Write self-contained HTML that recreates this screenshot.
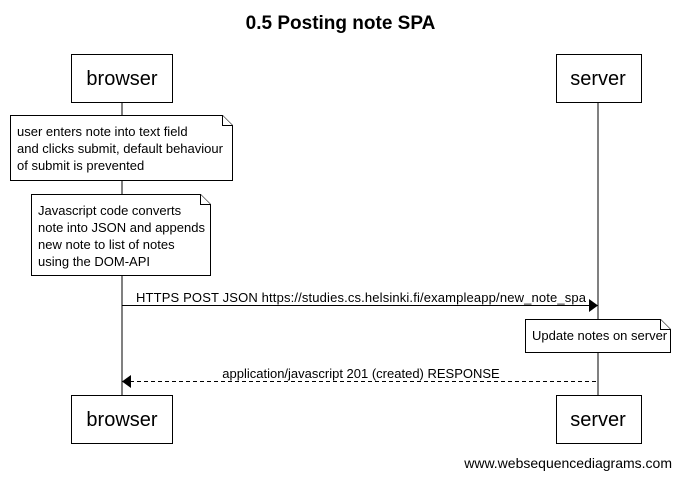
<!DOCTYPE html>
<html><head><style>body{margin:0;background:#fff}</style></head><body>
<svg width="681" height="479" xmlns="http://www.w3.org/2000/svg" font-family="Liberation Sans, sans-serif">
<rect width="681" height="479" fill="#fff"/>
<text x="340.5" y="29" text-anchor="middle" font-size="19" font-weight="bold">0.5 Posting note SPA</text>
<line x1="122" y1="102" x2="122" y2="395" stroke="#000"/>
<line x1="598" y1="102" x2="598" y2="395" stroke="#000"/>
<g fill="#fff" stroke="#000">
<rect x="71.5" y="54.5" width="101" height="48"/>
<rect x="556.5" y="54.5" width="85" height="48"/>
<rect x="71.5" y="395.5" width="101" height="48"/>
<rect x="556.5" y="395.5" width="85" height="48"/>
<path d="M10.5 115.5H222.5L232.5 125.5V180.5H10.5Z"/>
<path d="M222.5 115.5V125.5H232.5"/>
<path d="M31.5 194.5H200.5L210.5 204.5V275.5H31.5Z"/>
<path d="M200.5 194.5V204.5H210.5"/>
<path d="M525.5 319.5H660.5L670.5 329.5V352.5H525.5Z"/>
<path d="M660.5 319.5V329.5H670.5"/>
</g>
<g font-size="20" text-anchor="middle">
<text x="122" y="85">browser</text><text x="598" y="85">server</text>
<text x="122" y="426">browser</text><text x="598" y="426">server</text>
</g>
<g font-size="13">
<text x="17" y="136">user enters note into text field</text>
<text x="17" y="153">and clicks submit, default behaviour</text>
<text x="17" y="170">of submit is prevented</text>
<text x="38" y="215">Javascript code converts</text>
<text x="38" y="232">note into JSON and appends</text>
<text x="38" y="249">new note to list of notes</text>
<text x="38" y="266">using the DOM-API</text>
<text x="532" y="340">Update notes on server</text>
<text x="136" y="302" textLength="450">HTTPS POST JSON https://studies.cs.helsinki.fi/exampleapp/new_note_spa</text>
<text x="361" y="378" text-anchor="middle">application/javascript 201 (created) RESPONSE</text>
<text x="672" y="468" text-anchor="end" font-size="14">www.websequencediagrams.com</text>
</g>
<line x1="122" y1="305.5" x2="590" y2="305.5" stroke="#000"/>
<path d="M589 299L598 305.5L589 312Z"/>
<line x1="130" y1="381.5" x2="598" y2="381.5" stroke="#000" stroke-dasharray="4,3"/>
<path d="M131 375L122 381.5L131 388Z"/>
</svg>
</body></html>
